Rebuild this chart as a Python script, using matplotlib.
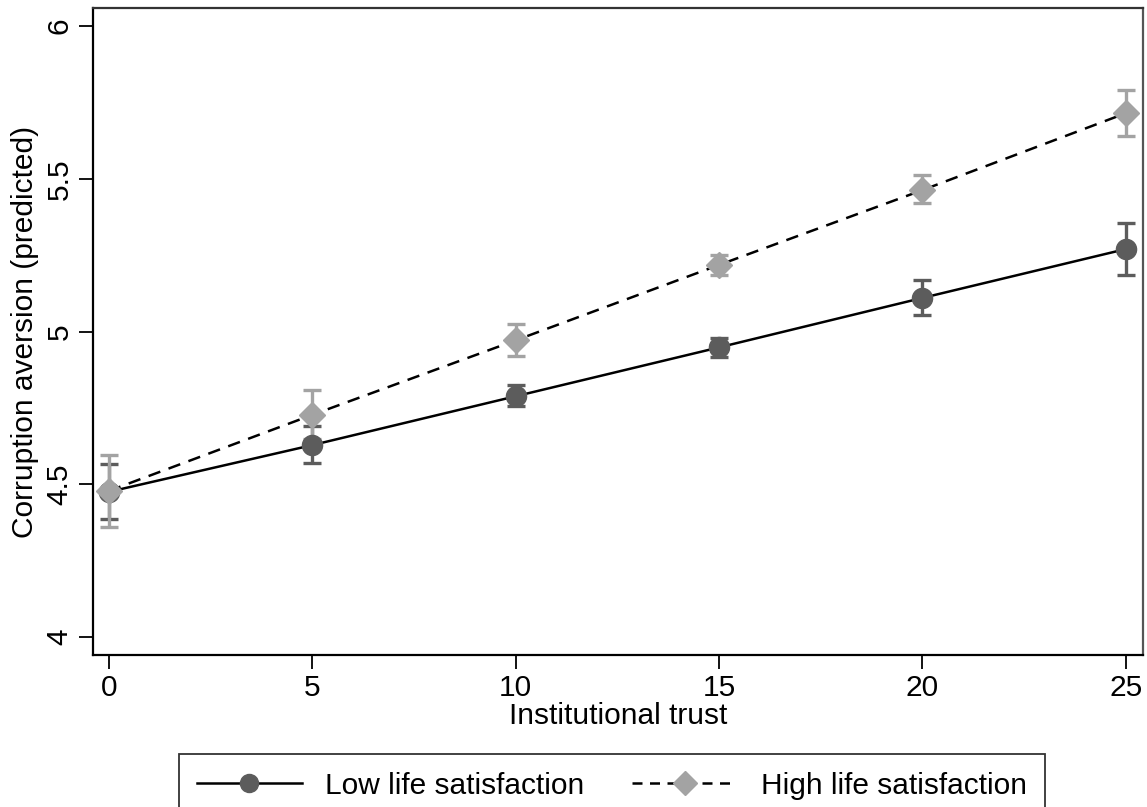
import numpy as np
import matplotlib
matplotlib.use("Agg")
import matplotlib.pyplot as plt
from matplotlib.lines import Line2D

plt.rcParams['font.family'] = ['Liberation Sans', 'DejaVu Sans']

# values
trust = [0, 5, 10, 15, 20, 25]
low_mean = [4.475, 4.628, 4.788, 4.948, 5.110, 5.270]
low_lo = [4.385, 4.570, 4.755, 4.915, 5.054, 5.185]
low_hi = [4.565, 4.690, 4.825, 4.980, 5.169, 5.355]
high_mean = [4.478, 4.727, 4.971, 5.218, 5.463, 5.715]
high_lo = [4.360, 4.647, 4.920, 5.185, 5.420, 5.640]
high_hi = [4.596, 4.807, 5.025, 5.250, 5.512, 5.790]

low_col = '#5c5c5c'
high_col = '#a3a3a3'
fs = 21.5

fig = plt.figure(figsize=(11.47, 8.07), dpi=100)
ax = fig.add_axes([0.081, 0.1884, 0.9155, 0.8016])

x = np.array(trust)

# confidence intervals
lm = np.array(low_mean)
hm = np.array(high_mean)
ax.errorbar(x, lm, yerr=[lm - np.array(low_lo), np.array(low_hi) - lm],
            fmt='none', ecolor=low_col, elinewidth=2.4, capsize=6.5, capthick=2.4, zorder=2)
ax.errorbar(x, hm, yerr=[hm - np.array(high_lo), np.array(high_hi) - hm],
            fmt='none', ecolor=high_col, elinewidth=2.4, capsize=6.5, capthick=2.4, zorder=2)

# lines
ax.plot(x, lm, color='black', lw=1.8, zorder=3)
ax.plot(x, hm, color='black', lw=1.8, ls=(0, (5, 3.5)), zorder=3)

# markers
ax.plot(x, lm, 'o', ms=14.5, color=low_col, zorder=4)
ax.plot(x, hm, 'D', ms=13.5, color=high_col, zorder=4)

ax.set_xlim(-0.39, 25.42)
ax.set_ylim(3.941, 6.059)
ax.set_xticks([0, 5, 10, 15, 20, 25])
ax.set_yticks([4, 4.5, 5, 5.5, 6])
ax.set_yticklabels(['4', '4.5', '5', '5.5', '6'], rotation=90, va='center')
ax.tick_params(axis='both', labelsize=fs, length=10, width=1.3, colors='black')
ax.tick_params(axis='y', pad=4)
ax.tick_params(axis='x', pad=4)

for side in ['left', 'bottom', 'top', 'right']:
    ax.spines[side].set_linewidth(1.6)
ax.spines['top'].set_color('#333333')
ax.spines['right'].set_color('#555555')

ax.set_xlabel('Institutional trust', fontsize=fs, labelpad=0)
ax.set_ylabel('Corruption aversion (predicted)', fontsize=fs, labelpad=5)

handles = [
    Line2D([], [], color='black', lw=1.8, marker='o', ms=13,
           markerfacecolor=low_col, markeredgecolor=low_col),
    Line2D([], [], color='black', lw=1.8, ls=(0, (4, 3)), marker='D', ms=12,
           markerfacecolor=high_col, markeredgecolor=high_col),
]
leg = fig.legend(handles, ['Low life satisfaction', 'High life satisfaction'],
                 loc='upper center', bbox_to_anchor=(0.5335, 1 - 754 / 807),
                 ncol=2, fontsize=fs, frameon=True, fancybox=False,
                 handlelength=3.5, columnspacing=1.6, handletextpad=0.8,
                 borderpad=0.6, borderaxespad=0)
leg.get_frame().set_edgecolor('black')
leg.get_frame().set_linewidth(1.3)

fig.savefig('out.png', dpi=100)
